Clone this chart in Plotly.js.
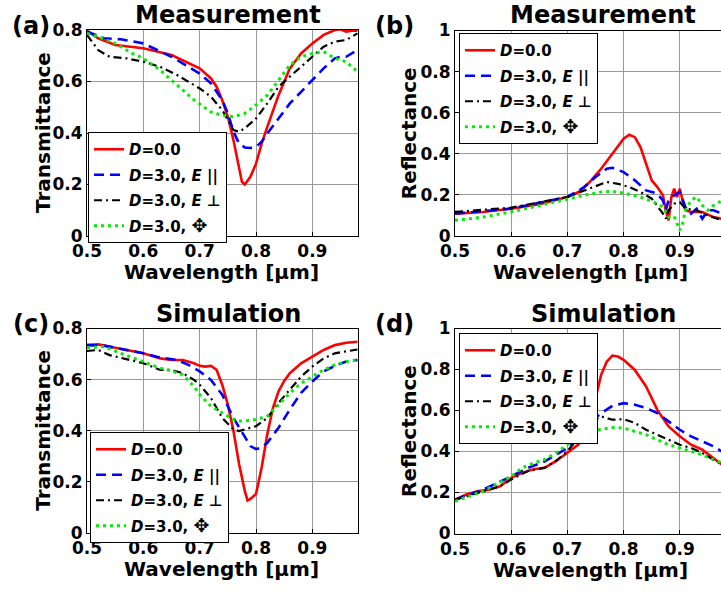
<!DOCTYPE html>
<html>
<head>
<meta charset="utf-8">
<script src="https://cdn.plot.ly/plotly-3.0.1.min.js"></script>
<style>html,body{margin:0;padding:0;background:#fff;}#chart{width:721px;height:593px;}</style>
</head>
<body>
<div id="chart"></div>
<script>
// ---------- (a) Measurement, Transmittance ----------
const aRedX = [0.5,0.52,0.55,0.6,0.65,0.7,0.72,0.73,0.74,0.75,0.76,0.77,0.775,0.78,0.79,0.8,0.81,0.82,0.83,0.84,0.85,0.86,0.88,0.9,0.92,0.94,0.95,0.96,0.97,0.98];
const aRedY = [0.797,0.768,0.742,0.729,0.703,0.651,0.612,0.58,0.528,0.463,0.372,0.268,0.21,0.20,0.23,0.281,0.359,0.424,0.489,0.547,0.599,0.651,0.709,0.748,0.781,0.80,0.803,0.794,0.797,0.797];
const aBlueX = [0.5,0.53,0.56,0.6,0.65,0.7,0.72,0.74,0.75,0.76,0.77,0.78,0.79,0.8,0.81,0.82,0.84,0.86,0.88,0.9,0.92,0.94,0.95,0.96,0.98];
const aBlueY = [0.794,0.768,0.764,0.748,0.696,0.631,0.593,0.528,0.476,0.405,0.359,0.344,0.342,0.346,0.366,0.398,0.456,0.515,0.56,0.605,0.651,0.69,0.696,0.696,0.722];
const aBlackX = [0.5,0.52,0.54,0.57,0.6,0.63,0.66,0.7,0.72,0.74,0.75,0.76,0.77,0.78,0.8,0.82,0.84,0.86,0.88,0.9,0.92,0.94,0.96,0.98];
const aBlackY = [0.781,0.722,0.696,0.69,0.677,0.657,0.625,0.573,0.541,0.489,0.45,0.411,0.405,0.418,0.456,0.515,0.58,0.618,0.657,0.696,0.735,0.755,0.761,0.787];
const aGreenX = [0.5,0.52,0.55,0.58,0.6,0.63,0.66,0.69,0.72,0.74,0.76,0.78,0.8,0.82,0.84,0.86,0.88,0.9,0.92,0.94,0.96,0.98];
const aGreenY = [0.787,0.774,0.748,0.709,0.69,0.644,0.586,0.528,0.482,0.469,0.463,0.476,0.509,0.547,0.605,0.664,0.696,0.709,0.716,0.69,0.677,0.638];

// ---------- (b) Measurement, Reflectance ----------
const bRedX = [0.5,0.55,0.6,0.65,0.7,0.72,0.74,0.76,0.78,0.8,0.81,0.82,0.83,0.84,0.85,0.86,0.87,0.875,0.88,0.885,0.89,0.895,0.9,0.905,0.91,0.92,0.94,0.96,0.975];
const bRedY = [0.109,0.117,0.133,0.154,0.19,0.214,0.263,0.327,0.40,0.473,0.493,0.481,0.433,0.352,0.271,0.238,0.198,0.125,0.076,0.19,0.23,0.19,0.23,0.173,0.125,0.117,0.117,0.092,0.084];
const bBlueX = [0.5,0.6,0.7,0.73,0.75,0.77,0.78,0.8,0.82,0.84,0.86,0.87,0.875,0.88,0.89,0.9,0.91,0.92,0.93,0.94,0.95,0.96,0.975];
const bBlueY = [0.109,0.133,0.19,0.238,0.287,0.327,0.332,0.311,0.271,0.222,0.206,0.173,0.125,0.173,0.198,0.214,0.141,0.109,0.133,0.084,0.125,0.125,0.109];
const bBlackX = [0.5,0.6,0.7,0.74,0.77,0.79,0.81,0.83,0.85,0.87,0.875,0.88,0.89,0.9,0.91,0.93,0.95,0.975];
const bBlackY = [0.117,0.138,0.19,0.23,0.263,0.254,0.238,0.214,0.182,0.109,0.084,0.125,0.157,0.165,0.133,0.125,0.10,0.076];
const bGreenX = [0.5,0.55,0.6,0.65,0.7,0.73,0.76,0.78,0.8,0.83,0.86,0.87,0.88,0.89,0.9,0.905,0.91,0.92,0.93,0.94,0.95,0.96,0.975];
const bGreenY = [0.076,0.092,0.117,0.149,0.182,0.198,0.214,0.217,0.209,0.19,0.157,0.141,0.092,0.096,0.028,0.06,0.125,0.173,0.19,0.149,0.125,0.149,0.173];

// ---------- (c) Simulation, Transmittance ----------
const cRedX = [0.5,0.52,0.55,0.6,0.63,0.65,0.67,0.69,0.7,0.71,0.72,0.73,0.74,0.75,0.76,0.77,0.78,0.785,0.79,0.8,0.81,0.82,0.83,0.84,0.85,0.86,0.88,0.9,0.92,0.94,0.96,0.98];
const cRedY = [0.735,0.738,0.725,0.703,0.683,0.677,0.677,0.664,0.654,0.651,0.654,0.638,0.58,0.502,0.399,0.269,0.166,0.127,0.133,0.153,0.256,0.386,0.489,0.554,0.595,0.625,0.664,0.69,0.716,0.735,0.744,0.748];
const cBlueX = [0.5,0.53,0.57,0.6,0.63,0.66,0.68,0.7,0.72,0.74,0.76,0.78,0.79,0.8,0.81,0.82,0.84,0.86,0.88,0.9,0.92,0.94,0.96,0.98];
const cBlueY = [0.735,0.733,0.716,0.703,0.686,0.677,0.658,0.632,0.599,0.541,0.45,0.373,0.34,0.328,0.334,0.353,0.412,0.483,0.548,0.593,0.632,0.654,0.671,0.677];
const cBlackX = [0.5,0.52,0.54,0.57,0.6,0.63,0.65,0.67,0.69,0.7,0.72,0.74,0.76,0.77,0.78,0.8,0.82,0.84,0.86,0.88,0.9,0.92,0.94,0.96,0.98];
const cBlackY = [0.712,0.716,0.696,0.681,0.664,0.638,0.638,0.625,0.599,0.58,0.528,0.45,0.405,0.399,0.405,0.418,0.45,0.509,0.561,0.612,0.651,0.683,0.703,0.712,0.718];
const cGreenX = [0.5,0.53,0.56,0.6,0.63,0.65,0.67,0.69,0.7,0.72,0.74,0.76,0.77,0.79,0.8,0.82,0.84,0.86,0.88,0.9,0.92,0.94,0.96,0.98];
const cGreenY = [0.725,0.729,0.703,0.671,0.645,0.634,0.619,0.573,0.541,0.496,0.47,0.444,0.438,0.44,0.444,0.457,0.502,0.548,0.586,0.612,0.638,0.658,0.671,0.677];

// ---------- (d) Simulation, Reflectance ----------
const dRedX = [0.5,0.52,0.54,0.56,0.58,0.6,0.62,0.64,0.66,0.68,0.7,0.72,0.73,0.74,0.75,0.76,0.77,0.78,0.79,0.8,0.82,0.84,0.86,0.88,0.9,0.92,0.94,0.96,0.975];
const dRedY = [0.165,0.19,0.206,0.214,0.23,0.271,0.297,0.313,0.321,0.354,0.394,0.435,0.483,0.563,0.66,0.774,0.838,0.868,0.863,0.847,0.798,0.717,0.603,0.522,0.474,0.433,0.409,0.368,0.336];
const dBlueX = [0.5,0.55,0.6,0.63,0.66,0.68,0.7,0.72,0.74,0.76,0.78,0.8,0.82,0.84,0.86,0.88,0.9,0.92,0.94,0.96,0.975];
const dBlueY = [0.165,0.214,0.279,0.32,0.352,0.384,0.417,0.474,0.539,0.587,0.623,0.636,0.628,0.612,0.587,0.547,0.506,0.474,0.449,0.425,0.40];
const dBlackX = [0.5,0.55,0.58,0.6,0.63,0.66,0.68,0.7,0.72,0.74,0.76,0.77,0.78,0.8,0.82,0.84,0.86,0.88,0.9,0.92,0.94,0.96,0.975];
const dBlackY = [0.165,0.206,0.23,0.263,0.305,0.321,0.354,0.402,0.467,0.539,0.571,0.563,0.555,0.558,0.539,0.506,0.482,0.457,0.433,0.417,0.393,0.36,0.336];
const dGreenX = [0.5,0.55,0.6,0.62,0.64,0.66,0.68,0.7,0.72,0.74,0.76,0.78,0.8,0.82,0.84,0.86,0.88,0.9,0.92,0.94,0.96,0.975];
const dGreenY = [0.157,0.206,0.279,0.321,0.344,0.362,0.394,0.433,0.474,0.498,0.506,0.517,0.514,0.498,0.482,0.457,0.433,0.417,0.40,0.384,0.36,0.344];

// ---------- labels ----------
const seriesNames = ['<i>D</i>=0.0', '<i>D</i>=3.0, <i>E</i> ||', '<i>D</i>=3.0, <i>E</i> ⊥', '<i>D</i>=3.0, <span style="font-size:19px">✥</span>'];
const panelLetters = ['(a)', '(b)', '(c)', '(d)'];
const panelTitles = ['Measurement', 'Measurement', 'Simulation', 'Simulation'];
const yTitles = ['Transmittance', 'Reflectance', 'Transmittance', 'Reflectance'];
const xTitle = 'Wavelength [μm]';
const xTickVals = [0.5, 0.6, 0.7, 0.8, 0.9];
const xTickText = ['0.5', '0.6', '0.7', '0.8', '0.9'];
const yTickT = [0, 0.2, 0.4, 0.6, 0.8];
const yTickTText = ['0', '0.2', '0.4', '0.6', '0.8'];
const yTickR = [0, 0.2, 0.4, 0.6, 0.8, 1];
const yTickRText = ['0', '0.2', '0.4', '0.6', '0.8', '1'];

const FONT = 'DejaVu Sans, Arial, sans-serif';
const styles = [
  {color: '#ff0000', width: 2.6, dash: 'solid'},
  {color: '#0000ff', width: 2.6, dash: '10px,6px'},
  {color: '#000000', width: 2.2, dash: '8px,4px,2px,4px'},
  {color: '#00ee00', width: 3, dash: '3px,4px'}
];

const panels = [
  {xs: [aRedX, aBlueX, aBlackX, aGreenX], ys: [aRedY, aBlueY, aBlackY, aGreenY]},
  {xs: [bRedX, bBlueX, bBlackX, bGreenX], ys: [bRedY, bBlueY, bBlackY, bGreenY]},
  {xs: [cRedX, cBlueX, cBlackX, cGreenX], ys: [cRedY, cBlueY, cBlackY, cGreenY]},
  {xs: [dRedX, dBlueX, dBlackX, dGreenX], ys: [dRedY, dBlueY, dBlackY, dGreenY]}
];

const W = 721, H = 593;
// pixel boxes of plot areas [left, right, top, bottom]
const boxes = [
  [87, 358, 30, 236],
  [455, 721, 30.5, 236],
  [87, 358, 328.5, 533],
  [455, 721, 328.5, 533.5]
];
const xRanges = [[0.5, 0.981], [0.5, 0.9733], [0.5, 0.981], [0.5, 0.9733]];
const yRanges = [[0, 0.8], [0, 1], [0, 0.8], [0, 1]];
const legendPos = [[88, 132], [459, 33], [90, 432], [459, 333]];

const data = [];
const layout = {
  width: W, height: H,
  margin: {l: 0, r: 0, t: 0, b: 0},
  paper_bgcolor: '#ffffff', plot_bgcolor: '#ffffff',
  showlegend: true,
  annotations: [],
  font: {family: FONT, color: '#000'}
};

panels.forEach((p, i) => {
  const n = i + 1;
  const xa = n === 1 ? 'x' : 'x' + n;
  const ya = n === 1 ? 'y' : 'y' + n;
  const lg = n === 1 ? 'legend' : 'legend' + n;
  for (let s = 0; s < 4; s++) {
    data.push({
      type: 'scatter', mode: 'lines',
      x: p.xs[s], y: p.ys[s],
      xaxis: xa, yaxis: ya, legend: lg,
      legendgroup: 'p' + n + 's' + s,
      name: seriesNames[s],
      line: {color: styles[s].color, width: styles[s].width, dash: styles[s].dash},
      hoverinfo: 'skip'
    });
  }
  const b = boxes[i];
  const isRight = (i % 2 === 1);
  layout['xaxis' + (n === 1 ? '' : n)] = {
    domain: [b[0] / W, Math.min(1, b[1] / W)],
    range: xRanges[i], anchor: ya,
    tickvals: xTickVals, ticktext: xTickText,
    ticks: 'inside', ticklen: 4, tickcolor: '#000', tickwidth: 1,
    showline: true, linecolor: '#000', linewidth: 1, mirror: true,
    showgrid: true, gridcolor: '#9a9a9a', gridwidth: 1, zeroline: false,
    tickfont: {family: FONT, size: 17, weight: 'bold', color: '#000'},
    automargin: false, fixedrange: true
  };
  layout['yaxis' + (n === 1 ? '' : n)] = {
    domain: [1 - b[3] / H, 1 - b[2] / H],
    range: yRanges[i], anchor: xa,
    tickvals: isRight ? yTickR : yTickT, ticktext: isRight ? yTickRText : yTickTText,
    ticks: 'inside', ticklen: 4, tickcolor: '#000', tickwidth: 1,
    showline: true, linecolor: '#000', linewidth: 1, mirror: isRight ? false : true,
    showgrid: true, gridcolor: '#9a9a9a', gridwidth: 1, zeroline: false,
    tickfont: {family: FONT, size: 17, weight: 'bold', color: '#000'},
    automargin: false, fixedrange: true
  };
  layout[lg] = {
    x: legendPos[i][0] / W, y: 1 - legendPos[i][1] / H,
    xref: 'paper', yref: 'paper', xanchor: 'left', yanchor: 'top',
    bgcolor: '#ffffff', bordercolor: '#000', borderwidth: 1,
    font: {family: FONT, size: 15, weight: 'bold', color: '#000'},
    traceorder: 'grouped', tracegroupgap: 3, itemwidth: 30
  };
  // panel title
  layout.annotations.push({
    text: panelTitles[i], xref: 'paper', yref: 'paper',
    x: (isRight ? 603 : 228) / W, y: 1 - (b[2] - 15) / H,
    xanchor: 'center', yanchor: 'middle', showarrow: false,
    font: {family: FONT, size: 24, weight: 'bold', color: '#000'}
  });
  // panel letter
  layout.annotations.push({
    text: panelLetters[i], xref: 'paper', yref: 'paper',
    x: (isRight ? 394 : 31) / W, y: 1 - (b[2] - 4) / H,
    xanchor: 'center', yanchor: 'middle', showarrow: false,
    font: {family: FONT, size: 24, weight: 'bold', color: '#000'}
  });
  // x title
  layout.annotations.push({
    text: xTitle, xref: 'paper', yref: 'paper',
    x: (isRight ? 590 : 222) / W, y: 1 - (b[3] + 36) / H,
    xanchor: 'center', yanchor: 'middle', showarrow: false,
    font: {family: FONT, size: 20, weight: 'bold', color: '#000'}
  });
  // y title
  layout.annotations.push({
    text: yTitles[i], xref: 'paper', yref: 'paper', textangle: -90,
    x: (isRight ? 409 : 43) / W, y: 1 - ((b[2] + b[3]) / 2) / H,
    xanchor: 'center', yanchor: 'middle', showarrow: false,
    font: {family: FONT, size: 20, weight: 'bold', color: '#000'}
  });
});

Plotly.newPlot('chart', data, layout, {staticPlot: true, displayModeBar: false});
</script>
</body>
</html>
